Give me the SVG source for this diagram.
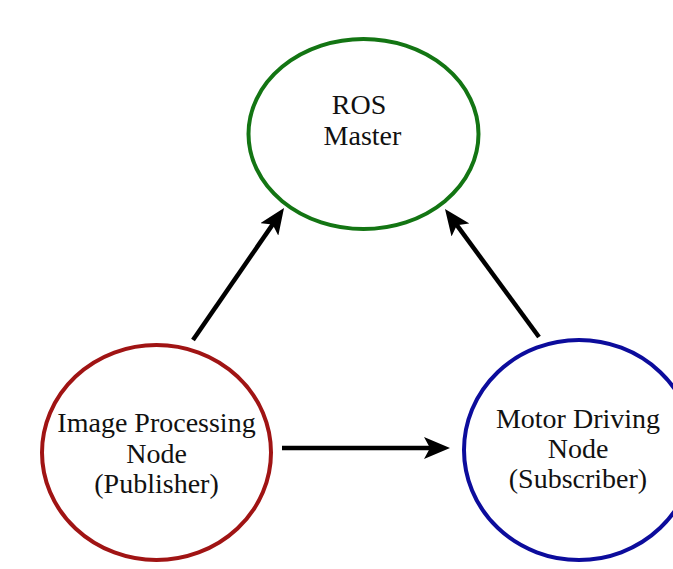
<svg xmlns="http://www.w3.org/2000/svg" width="673" height="569" viewBox="0 0 673 569">
<style>
.node{fill:#fff;stroke-width:4}
.lbl{font-family:"Liberation Serif","Times New Roman",serif;font-size:28px;fill:#111;text-anchor:middle}
.conn line{stroke:#000;stroke-width:4.5;fill:none}
</style>
<defs>
<marker id="ah" viewBox="0 0 26 22" markerWidth="26" markerHeight="22" refX="14" refY="11" orient="auto" markerUnits="userSpaceOnUse">
<path d="M0,0 L26,11 L0,22 L6,11 z" fill="#000"/>
</marker>
</defs>
<rect width="673" height="569" fill="#fff"/>
<g id="ros-master">
<ellipse class="node" cx="363.5" cy="134" rx="115" ry="95" stroke="#137513"/>
<text class="lbl" x="359" y="114">ROS</text>
<text class="lbl" x="362.5" y="145">Master</text>
</g>
<g id="image-processing">
<ellipse class="node" cx="156.5" cy="452.5" rx="114.5" ry="107.5" stroke="#a01414"/>
<text class="lbl" x="156.5" y="432">Image Processing</text>
<text class="lbl" x="156.5" y="463">Node</text>
<text class="lbl" x="156.5" y="493">(Publisher)</text>
</g>
<g id="motor-driving">
<ellipse class="node" cx="579" cy="450" rx="115" ry="110" stroke="#0c0c9c"/>
<text class="lbl" x="578" y="428">Motor Driving</text>
<text class="lbl" x="578" y="458">Node</text>
<text class="lbl" x="578" y="488">(Subscriber)</text>
</g>
<g id="connectors" class="conn">
<line x1="193" y1="340" x2="277.2" y2="217.9" marker-end="url(#ah)"/>
<line x1="539" y1="337" x2="452.1" y2="218.7" marker-end="url(#ah)"/>
<line x1="282" y1="448" x2="438" y2="448" marker-end="url(#ah)"/>
</g>
</svg>
